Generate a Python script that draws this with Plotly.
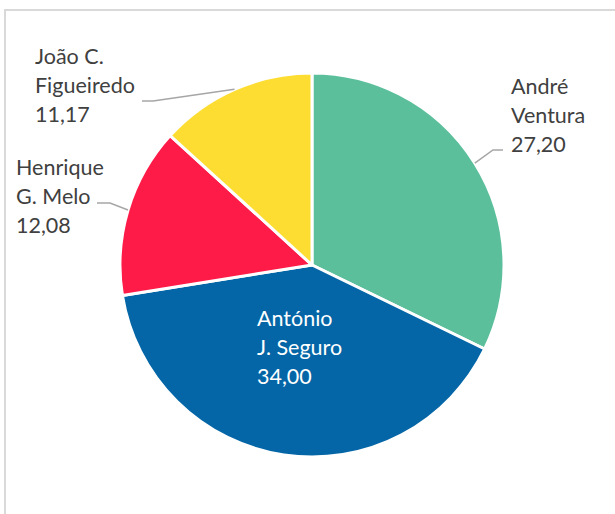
import math
import plotly.graph_objects as go

labels = ["André Ventura", "António J. Seguro", "Henrique G. Melo", "João C. Figueiredo"]
label_lines = [["André", "Ventura"], ["António", "J. Seguro"], ["Henrique", "G. Melo"], ["João C.", "Figueiredo"]]
values = [27.20, 34.00, 12.08, 11.17]
value_text = ["27,20", "34,00", "12,08", "11,17"]
colors = ["#5BBF9B", "#0466A6", "#FE1B48", "#FEDD33"]

W, H = 615, 514
CX, CY, R = 312, 265, 192  # pie centre / radius in pixels

# label layout (pixel left edge, first-line centre y) and leader-line elbow/end
label_pos = [(509, 86), (255, 318), (14, 167), (33, 56)]
elbows = [((493, 150), (503, 150)), None, ((110, 203), (97, 203)), ((153, 101), (142, 101))]
line_gap = 29

def px(x):
    return x / W

def py(y):
    return 1 - y / H

fig = go.Figure(go.Pie(
    labels=labels,
    values=values,
    sort=False,
    direction="clockwise",
    rotation=0,
    marker=dict(colors=colors, line=dict(color="white", width=3)),
    textinfo="none",
    hoverinfo="label+value",
    domain=dict(x=[px(CX - R), px(CX + R)], y=[py(CY + R), py(CY - R)]),
    showlegend=False,
))

annotations = []
shapes = [dict(type="rect", xref="paper", yref="paper",
               x0=px(5), x1=1.05, y0=-0.05, y1=py(10),
               line=dict(color="#D9D9D9", width=2), fillcolor="rgba(0,0,0,0)", layer="below")]

total = sum(values)
cum = 0.0
for i, v in enumerate(values):
    mid = (cum + v / 2) / total
    cum += v
    ang = 2 * math.pi * mid
    ex = CX + R * math.sin(ang)
    ey = CY - R * math.cos(ang)
    lx, ly = label_pos[i]
    inside = elbows[i] is None
    color = "white" if inside else "#404040"
    for j, t in enumerate(label_lines[i] + [value_text[i]]):
        annotations.append(dict(
            x=px(lx), y=py(ly + j * line_gap), xref="paper", yref="paper",
            text=t, showarrow=False, xanchor="left", yanchor="middle",
            font=dict(family="Lato, 'Open Sans', sans-serif", size=21.5, color=color),
        ))
    if not inside:
        (bx, by), (fx, fy) = elbows[i]
        shapes.append(dict(
            type="path", xref="paper", yref="paper",
            path=f"M {px(ex)} {py(ey)} L {px(bx)} {py(by)} L {px(fx)} {py(fy)}",
            line=dict(color="#A6A6A6", width=1.5),
        ))

fig.update_layout(
    width=W, height=H,
    margin=dict(l=0, r=0, t=0, b=0),
    paper_bgcolor="white",
    plot_bgcolor="white",
    annotations=annotations,
    shapes=shapes,
)

fig.write_html(
    "out.html",
    config={"displayModeBar": False},
    post_script="document.body.style.margin='0';document.body.style.padding='0';",
)
